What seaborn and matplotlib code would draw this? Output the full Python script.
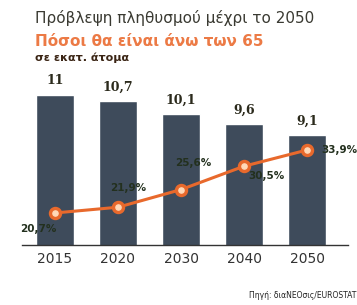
import numpy as np
import pandas as pd
import matplotlib
matplotlib.use("Agg")
import matplotlib.pyplot as plt
import seaborn as sns

# δεδομένα
years = ["2015", "2020", "2030", "2040", "2050"]
population = [11, 10.7, 10.1, 9.6, 9.1]          # εκατ. άτομα
over65 = [20.7, 21.9, 25.6, 30.5, 33.9]          # % άνω των 65
pop_labels = ["11", "10,7", "10,1", "9,6", "9,1"]
pct_labels = ["20,7%", "21,9%", "25,6%", "30,5%", "33,9%"]

df = pd.DataFrame({"year": years, "pop": population, "pct": over65})

sns.set_style("white")
plt.rcParams["font.family"] = ["DejaVu Sans"]

bar_color = "#3e4b5b"
line_color = "#e8692c"
text_dark = "#2b2a1c"

fig = plt.figure(figsize=(3.57, 3.05), dpi=100)
ax = fig.add_axes([0.062, 0.197, 0.913, 0.574])

sns.barplot(data=df, x="year", y="pop", color=bar_color, width=0.6,
            saturation=1, ax=ax)
ax.set_ylim(3.86, 12.19)
ax.set_xlim(-0.52, 4.65)

for i, lab in enumerate(pop_labels):
    ax.text(i, population[i] + 0.35, lab, ha="center", va="bottom",
            fontsize=9, fontweight="heavy", color=text_dark,
            family="DejaVu Serif")

# γραμμή ποσοστών στον δεύτερο άξονα
ax2 = ax.twinx()
sns.pointplot(data=df, x="year", y="pct", color=line_color, markers="o",
              markersize=8, linewidth=2.2, ax=ax2)
ax2.scatter(range(len(years)), over65, s=14, color="#ffd9b8", zorder=5)
ax2.set_ylim(14.0, 50.7)
ax2.set_xlim(-0.52, 4.65)

offsets = [(-0.55, -3.3), (-0.12, 4.0), (-0.1, 5.6),
           (0.06, -2.0), (0.23, 0.0)]
for i, lab in enumerate(pct_labels):
    dx, dy = offsets[i]
    ax2.text(i + dx, over65[i] + dy, lab, ha="left", va="center",
             fontsize=7.5, fontweight="bold", color="#23301e")

for a in (ax, ax2):
    a.set_xlabel("")
    a.set_ylabel("")
    a.set_yticks([])
    for s in ["top", "right", "left"]:
        a.spines[s].set_visible(False)
ax.spines["bottom"].set_color("#333333")
ax.spines["bottom"].set_linewidth(1.0)
ax2.spines["bottom"].set_visible(False)
ax.tick_params(axis="x", length=0, labelsize=10, colors="#333333", pad=5)

# τίτλοι
fig.text(0.098, 0.94, "Πρόβλεψη πληθυσμού μέχρι το 2050", fontsize=11,
         color="#3a3a32", va="center")
fig.text(0.098, 0.865, "Πόσοι θα είναι άνω των 65", fontsize=11,
         fontweight="bold", color="#ec7a45", va="center")
fig.text(0.098, 0.812, "σε εκατ. άτομα", fontsize=8, fontweight="bold",
         color="#3a2414", va="center")
fig.text(0.998, 0.03, "Πηγή: διαΝΕΟσις/EUROSTAT", fontsize=5.5,
         color="#222222", ha="right", va="center")

fig.savefig("out.png", dpi=100)
